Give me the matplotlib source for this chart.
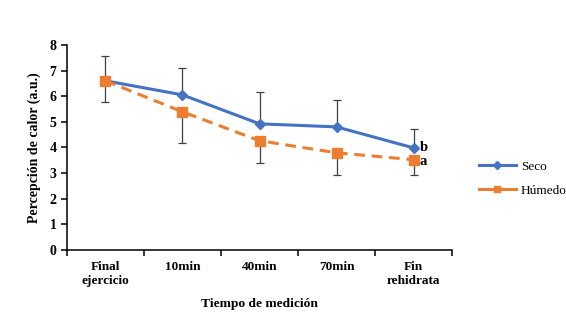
import matplotlib

matplotlib.use("Agg")
import matplotlib.pyplot as plt
from matplotlib.lines import Line2D
import numpy as np

CATEGORIES = ["Final\nejercicio", "10min", "40min", "70min", "Fin\nrehidrata"]
SECO = [6.6, 6.05, 4.92, 4.8, 3.98]
SECO_ERR = [0.98, 1.05, 1.25, 1.06, 0.75]
HUMEDO = [6.6, 5.39, 4.26, 3.79, 3.52]
HUMEDO_ERR = [0.82, 1.2, 0.86, 0.86, 0.6]
BLUE = "#4472C4"
ORANGE = "#ED7D31"


def main() -> None:
    plt.rcParams.update(
        {
            "font.family": ["Liberation Serif", "DejaVu Serif"],
            "font.size": 9.5,
            "axes.linewidth": 1.1,
        }
    )
    fig = plt.figure(figsize=(5.66, 3.16), dpi=100)
    ax = fig.add_axes([0.118, 0.209, 0.681, 0.649])

    x = np.arange(len(CATEGORIES))
    zeros = np.zeros(len(x))
    ax.errorbar(x, SECO, yerr=[zeros, SECO_ERR], fmt="none", ecolor="#404040",
                elinewidth=0.9, capsize=3, capthick=0.9, zorder=2)
    ax.errorbar(x, HUMEDO, yerr=[HUMEDO_ERR, zeros], fmt="none", ecolor="#404040",
                elinewidth=0.9, capsize=3, capthick=0.9, zorder=2)
    ax.plot(x, SECO, color=BLUE, lw=2.2, marker="D", ms=5, zorder=3)
    ax.plot(x, HUMEDO, color=ORANGE, lw=2.2, ls=(0, (3.5, 2.2)), marker="s", ms=7, zorder=4)

    ax.text(x[-1] + 0.08, SECO[-1], "b", fontsize=10.5, fontweight="bold", va="center", ha="left")
    ax.text(x[-1] + 0.08, HUMEDO[-1] - 0.08, "a", fontsize=10.5, fontweight="bold", va="center", ha="left")

    ax.set_xlim(-0.5, len(x) - 0.5)
    ax.set_ylim(0, 8)
    ax.set_yticks(np.arange(0, 9, 1))
    ax.set_xticks(x)
    ax.set_xticklabels(CATEGORIES, fontweight="bold", fontsize=9.5)
    ax.tick_params(axis="x", length=0, pad=8)
    ax.set_xticks(np.arange(-0.5, len(x), 1.0), minor=True)
    ax.tick_params(axis="x", which="minor", direction="out", length=4, width=1.1)
    ax.tick_params(axis="y", direction="out", length=4, width=1.1)
    for label in ax.get_yticklabels():
        label.set_fontweight("bold")
        label.set_fontsize(10)
    ax.spines["top"].set_visible(False)
    ax.spines["right"].set_visible(False)
    ax.set_xlabel("Tiempo de medición", fontweight="bold", fontsize=9.7, labelpad=8)
    ax.set_ylabel("Percepción de calor (a.u.)", fontweight="bold", fontsize=10, labelpad=6)

    handles = [
        Line2D([], [], color=BLUE, lw=2.2, marker="D", ms=4),
        Line2D([], [], color=ORANGE, lw=2.2, marker="s", ms=5),
    ]
    fig.legend(handles, ["Seco", "Húmedo"], loc="center left", bbox_to_anchor=(0.825, 0.435),
               frameon=False, fontsize=9.5, handlelength=2.8, handletextpad=0.4, labelspacing=0.9)

    fig.savefig("out.png", dpi=100, facecolor="white")
    plt.close(fig)


if __name__ == "__main__":
    main()
